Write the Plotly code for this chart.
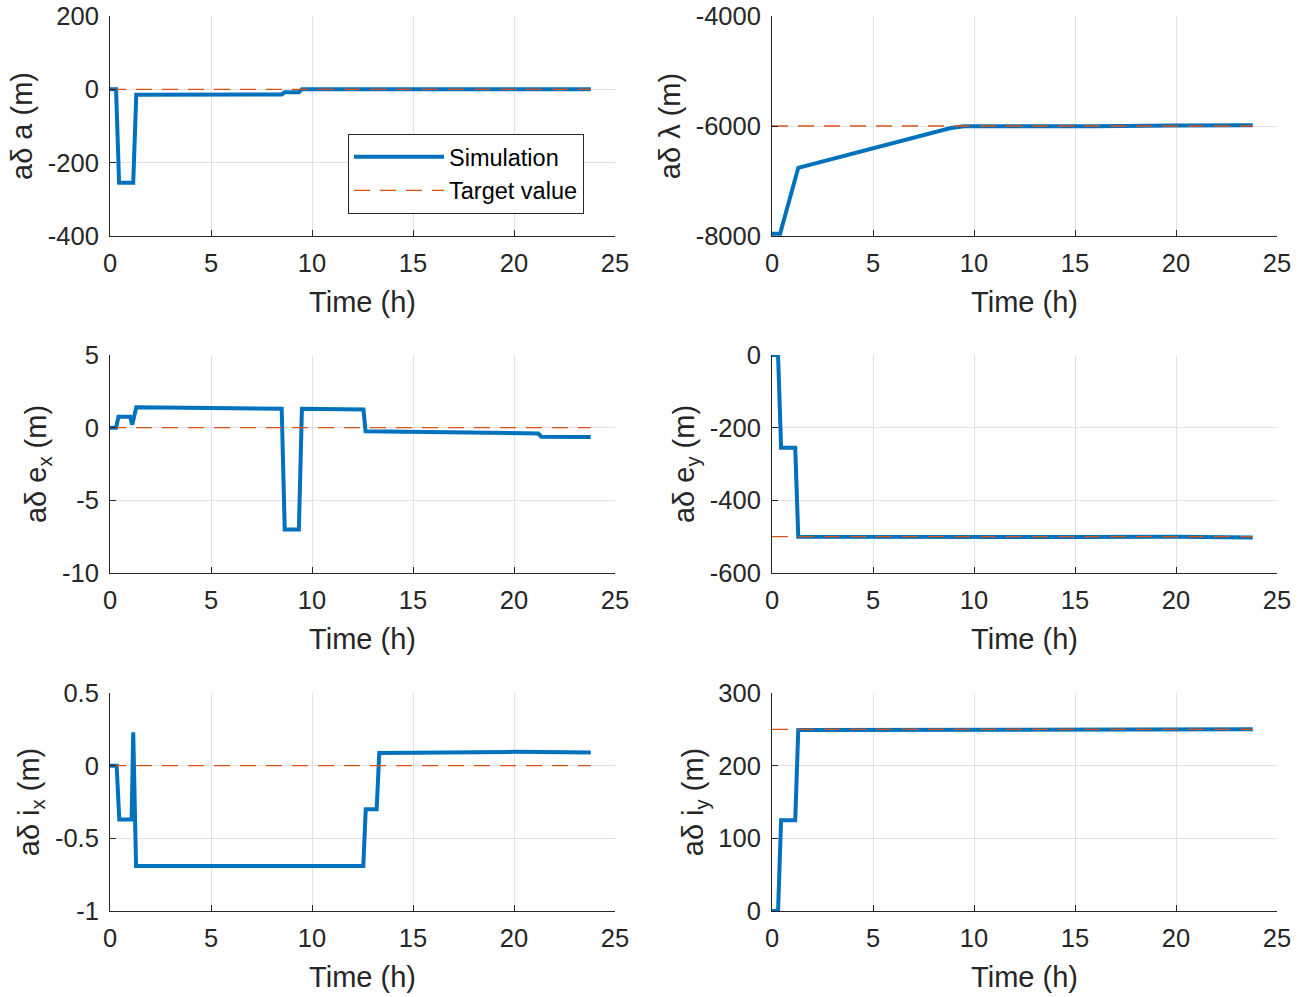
import plotly.graph_objects as go

# ---------------- data ----------------
t_a = [0, 0.3, 0.45, 1.15, 1.3, 3, 5, 7, 8.5, 8.65, 9.35, 9.5, 12, 12.6, 15, 18, 21.3, 23.8]
v_a = [0, 0, -255, -255, -15, -15, -15, -14, -14, -8, -8, 0, 0, -1, -1, -1, 0, 0]

t_l = [0, 0.4, 1.3, 8.8, 9.5, 12, 13.6, 16, 20, 21, 23.8]
v_l = [-7960, -7960, -6760, -6040, -6005, -6010, -6015, -6005, -5990, -5985, -5985]

t_ex = [0, 0.3, 0.42, 1.0, 1.1, 1.3, 5, 8.5, 8.65, 9.35, 9.5, 12.55, 12.65, 15, 18, 21.2, 21.35, 23.8]
v_ex = [0, 0, 0.75, 0.75, 0.2, 1.4, 1.35, 1.3, -7, -7, 1.3, 1.25, -0.25, -0.3, -0.35, -0.4, -0.62, -0.65]

t_ey = [0, 0.3, 0.45, 1.15, 1.3, 5, 10, 15, 20, 23.8]
v_ey = [0, 0, -255, -255, -500, -501, -500, -501, -500, -502]

t_ix = [0, 0.33, 0.46, 1.07, 1.15, 1.29, 5, 12.54, 12.66, 13.2, 13.33, 17, 20, 23.8]
v_ix = [0, 0, -0.37, -0.37, 0.23, -0.69, -0.69, -0.69, -0.30, -0.30, 0.087, 0.09, 0.095, 0.09]

t_iy = [0, 0.3, 0.45, 1.15, 1.3, 5, 10, 15, 20, 23.8]
v_iy = [0, 0, 125, 125, 249, 249, 249, 250, 250, 250]

t_target = [0, 23.8]
targets = [0, -6000, 0, -500, 0, 250]

x_ticks = [0, 5, 10, 15, 20, 25]
x_ticklabels = ["0", "5", "10", "15", "20", "25"]

y_ranges = [[-400, 200], [-8000, -4000], [-10, 5], [-600, 0], [-1, 0.5], [0, 300]]
y_ticks = [[-400, -200, 0, 200], [-8000, -6000, -4000], [-10, -5, 0, 5],
           [-600, -400, -200, 0], [-1, -0.5, 0, 0.5], [0, 100, 200, 300]]
y_ticklabels = [["-400", "-200", "0", "200"], ["-8000", "-6000", "-4000"], ["-10", "-5", "0", "5"],
                ["-600", "-400", "-200", "0"], ["-1", "-0.5", "0", "0.5"], ["0", "100", "200", "300"]]
y_titles = ["aδ a (m)", "aδ λ (m)", "aδ e<sub>x</sub> (m)", "aδ e<sub>y</sub> (m)",
            "aδ i<sub>x</sub> (m)", "aδ i<sub>y</sub> (m)"]
x_title = "Time (h)"
series = [(t_a, v_a), (t_l, v_l), (t_ex, v_ex), (t_ey, v_ey), (t_ix, v_ix), (t_iy, v_iy)]

# ---------------- styling ----------------
W, H = 1304, 997
BLUE = "#0072BD"
ORANGE = "#D95319"
AX = "#262626"
GRID = "#e1e1e1"
FONT = "Liberation Sans, Arial, Helvetica, sans-serif"

col_px = [(110, 615), (772, 1277)]
row_px = [(16, 236), (355, 573), (693, 911)]

fig = go.Figure()
layout = dict(width=W, height=H, margin=dict(l=0, r=0, t=0, b=0),
              paper_bgcolor="white", plot_bgcolor="white",
              font=dict(family=FONT, color=AX, size=25),
              showlegend=True)

for i, ((tx, vy), tgt) in enumerate(zip(series, targets)):
    r, c = divmod(i, 2)
    xa = "x" if i == 0 else f"x{i+1}"
    ya = "y" if i == 0 else f"y{i+1}"
    fig.add_trace(go.Scatter(x=tx, y=vy, mode="lines", xaxis=xa, yaxis=ya,
                             line=dict(color=BLUE, width=4),
                             name="Simulation", showlegend=(i == 0)))
    fig.add_trace(go.Scatter(x=t_target, y=[tgt, tgt], mode="lines", xaxis=xa, yaxis=ya,
                             line=dict(color=ORANGE, width=1.4, dash="16px,10px"),
                             name="Target value", showlegend=(i == 0)))
    x0, x1 = col_px[c]
    y0, y1 = row_px[r]
    common = dict(showline=True, linecolor=AX, linewidth=1, mirror=False,
                  ticks="inside", ticklen=6, tickcolor=AX, tickwidth=1,
                  showgrid=True, gridcolor=GRID, gridwidth=1, zeroline=False,
                  tickfont=dict(family=FONT, size=25.5, color=AX), automargin=False,
                  ticklabeloverflow="allow")
    layout["xaxis" if i == 0 else f"xaxis{i+1}"] = dict(
        common, domain=[x0 / W, x1 / W], range=[0, 25], anchor=ya,
        tickmode="array", tickvals=x_ticks, ticktext=x_ticklabels,
        ticklabelstandoff=4,
        title=dict(text=x_title, font=dict(family=FONT, size=29, color=AX), standoff=16))
    layout["yaxis" if i == 0 else f"yaxis{i+1}"] = dict(
        common, domain=[1 - y1 / H, 1 - y0 / H], range=y_ranges[i], anchor=xa,
        tickmode="array", tickvals=y_ticks[i], ticktext=y_ticklabels[i],
        ticklabelstandoff=5,
        title=dict(text=y_titles[i], font=dict(family=FONT, size=29, color=AX), standoff=6))

layout["legend"] = dict(x=348 / W, y=1 - 134 / H, xanchor="left", yanchor="top",
                        bgcolor="white", bordercolor=AX, borderwidth=1,
                        font=dict(family=FONT, size=23.5, color="black"),
                        tracegroupgap=0, itemwidth=90)
fig.update_layout(**layout)
# remove the browser's default 8px body margin so the figure fills the window exactly
fig.write_html("out.html", config={"displayModeBar": False},
               post_script="document.body.style.margin='0';")
